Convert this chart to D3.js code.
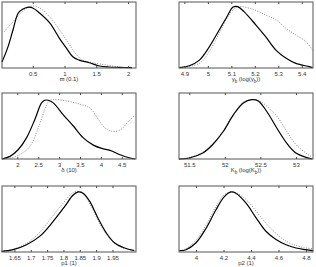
<!DOCTYPE html>
<html>
<head>
<meta charset="utf-8">
<script src="https://cdn.jsdelivr.net/npm/d3@7"></script>
<style>
  body { margin: 0; background: #fff; }
  svg { display: block; }
  .tick text { font-family: "Liberation Sans", Arial, sans-serif; font-size: 6px; fill: #333; }
  .lbl { font-family: "Liberation Sans", Arial, sans-serif; font-size: 6px; fill: #333; }
</style>
</head>
<body>
<svg id="chart" width="316" height="267"></svg>
<script>
// marginal posteriors, solid = posterior, dotted = comparison (relative density)
var omegaSolid = [[0.016,0.09],[0.11,0.32],[0.19,0.58],[0.27,0.83],[0.34,0.89],[0.42,0.92],[0.5,0.91],[0.61,0.83],[0.77,0.68],[0.92,0.45],[1.03,0.30],[1.13,0.17],[1.23,0.12],[1.39,0.08],[1.55,0.03],[1.70,0.015],[1.86,0.01],[2.06,0.005]];
var omegaDotted = [[0.047,0.545],[0.17,0.68],[0.25,0.77],[0.41,0.91],[0.5,0.94],[0.61,0.91],[0.77,0.77],[0.92,0.58],[1.08,0.35],[1.19,0.20],[1.28,0.12],[1.44,0.08],[1.66,0.045],[1.86,0.015],[2.06,0.005]];

var gammaSolid = [[4.879,0.005],[4.921,0.035],[4.964,0.12],[5.006,0.32],[5.049,0.58],[5.085,0.80],[5.106,0.92],[5.127,0.93],[5.155,0.85],[5.205,0.65],[5.247,0.47],[5.29,0.27],[5.332,0.15],[5.375,0.07],[5.432,0.02],[5.446,0.005]];
var gammaDotted = [[4.879,0.005],[4.964,0.07],[5.006,0.25],[5.049,0.53],[5.085,0.78],[5.113,0.90],[5.134,0.93],[5.191,0.89],[5.248,0.80],[5.29,0.73],[5.333,0.60],[5.375,0.50],[5.418,0.40],[5.446,0.27]];

var deltaSolid = [[1.63,0],[1.825,0.04],[2.02,0.14],[2.22,0.32],[2.42,0.60],[2.58,0.85],[2.66,0.89],[2.74,0.89],[2.86,0.85],[3.10,0.67],[3.34,0.50],[3.58,0.32],[3.82,0.21],[4.02,0.16],[4.22,0.13],[4.46,0.065],[4.70,0.015],[4.82,0]];
var deltaDotted = [[1.825,0.01],[2.06,0.065],[2.30,0.19],[2.50,0.47],[2.66,0.75],[2.76,0.88],[2.86,0.90],[3.18,0.88],[3.50,0.83],[3.74,0.77],[3.94,0.60],[4.10,0.47],[4.26,0.42],[4.46,0.44],[4.66,0.57],[4.82,0.67]];

var kSolid = [[51.355,0],[51.5,0.015],[51.69,0.09],[51.83,0.22],[51.98,0.42],[52.12,0.67],[52.26,0.85],[52.38,0.90],[52.47,0.88],[52.59,0.72],[52.73,0.47],[52.87,0.24],[53.0,0.09],[53.14,0.025],[53.23,0]];
var kDotted = [[51.355,0],[51.5,0.02],[51.69,0.10],[51.83,0.23],[51.98,0.43],[52.12,0.68],[52.26,0.86],[52.38,0.90],[52.47,0.89],[52.59,0.80],[52.73,0.65],[52.87,0.42],[53.0,0.22],[53.14,0.09],[53.23,0.025]];

var p1Solid = [[1.611,0.01],[1.646,0.035],[1.687,0.11],[1.728,0.24],[1.768,0.46],[1.804,0.69],[1.829,0.86],[1.845,0.91],[1.86,0.89],[1.88,0.77],[1.905,0.52],[1.931,0.29],[1.956,0.14],[1.987,0.06],[2.017,0.02]];
var p1Dotted = [[1.611,0.01],[1.646,0.04],[1.687,0.13],[1.728,0.30],[1.768,0.55],[1.799,0.74],[1.824,0.88],[1.84,0.92],[1.86,0.88],[1.885,0.69],[1.91,0.44],[1.936,0.24],[1.962,0.11],[1.99,0.05],[2.017,0.02]];

var p2Solid = [[3.879,0.02],[3.927,0.035],[4.0,0.14],[4.073,0.36],[4.145,0.64],[4.206,0.84],[4.255,0.91],[4.29,0.89],[4.364,0.74],[4.436,0.52],[4.51,0.31],[4.582,0.19],[4.655,0.11],[4.727,0.06],[4.8,0.035],[4.85,0.02]];
var p2Dotted = [[3.879,0.02],[3.927,0.05],[4.0,0.18],[4.073,0.41],[4.145,0.69],[4.206,0.87],[4.255,0.91],[4.3,0.89],[4.376,0.77],[4.448,0.59],[4.52,0.41],[4.594,0.26],[4.667,0.15],[4.74,0.09],[4.8,0.06],[4.85,0.05]];

var omegaTicks = [0.5, 1, 1.5, 2];
var gammaTicks = [4.9, 5, 5.1, 5.2, 5.3, 5.4];
var deltaTicks = [2, 2.5, 3, 3.5, 4, 4.5];
var kTicks = [51.5, 52, 52.5, 53];
var p1Ticks = [1.65, 1.7, 1.75, 1.8, 1.85, 1.9, 1.95];
var p2Ticks = [4, 4.2, 4.4, 4.6, 4.8];

var svg = d3.select("#chart");

var colX = [2, 179], rowY = [2, 93, 186];
var pw = 134, ph = 66;

var panels = [
  { solid: omegaSolid, dotted: omegaDotted, ticks: omegaTicks, dom: [0.016, 2.125], label: [["ϖ (0.1)"]] },
  { solid: gammaSolid, dotted: gammaDotted, ticks: gammaTicks, dom: [4.877, 5.448], label: [["γ"],["b","sub"],[" (log(γ"],["b","sub"],["))"]] },
  { solid: deltaSolid, dotted: deltaDotted, ticks: deltaTicks, dom: [1.634, 4.84], label: [["δ (10)"]] },
  { solid: kSolid, dotted: kDotted, ticks: kTicks, dom: [51.355, 53.24], label: [["K"],["b","sub"],[" (log(K"],["b","sub"],["))"]] },
  { solid: p1Solid, dotted: p1Dotted, ticks: p1Ticks, dom: [1.612, 2.022], label: [["p1 (1)"]] },
  { solid: p2Solid, dotted: p2Dotted, ticks: p2Ticks, dom: [3.876, 4.851], label: [["p2 (1)"]] }
];

panels.forEach(function(p, i) {
  var x0 = colX[i % 2], y0 = rowY[Math.floor(i / 2)];
  var g = svg.append("g").attr("transform", "translate(" + x0 + "," + y0 + ")");

  var x = d3.scaleLinear().domain(p.dom).range([0, pw]);
  var y = d3.scaleLinear().domain([0, 1]).range([ph, 0]);

  var line = d3.line()
      .x(function(d) { return x(d[0]); })
      .y(function(d) { return y(d[1]); })
      .curve(d3.curveCatmullRom);

  g.append("path").datum(p.dotted)
      .attr("d", line)
      .attr("fill", "none")
      .attr("stroke", "#888")
      .attr("stroke-width", 1)
      .attr("stroke-dasharray", "1,1.5");

  g.append("path").datum(p.solid)
      .attr("d", line)
      .attr("fill", "none")
      .attr("stroke", "#000")
      .attr("stroke-width", 1.2);

  // bottom axis with inward ticks
  var ax = g.append("g")
      .attr("transform", "translate(0," + ph + ")")
      .call(d3.axisBottom(x).tickValues(p.ticks).tickSizeInner(-2).tickSizeOuter(0)
        .tickFormat(d3.format("")));
  ax.select(".domain").remove();
  ax.selectAll(".tick line").attr("stroke", "#444");
  ax.selectAll(".tick text").attr("y", 4);

  // top ticks
  g.append("g")
      .call(d3.axisTop(x).tickValues(p.ticks).tickSizeInner(-2).tickSizeOuter(0).tickFormat(""))
      .call(function(s) { s.select(".domain").remove(); s.selectAll("line").attr("stroke", "#444"); });

  g.append("rect")
      .attr("x", 0).attr("y", 0)
      .attr("width", pw).attr("height", ph)
      .attr("fill", "none")
      .attr("stroke", "#555")
      .attr("stroke-width", 1);

  var t = g.append("text").attr("class", "lbl")
      .attr("x", pw / 2).attr("y", ph + 13)
      .attr("text-anchor", "middle");
  p.label.forEach(function(part) {
    var s = t.append("tspan").text(part[0]);
    if (part[1] === "sub") s.attr("font-size", "4.5px").attr("dy", 1.5);
    else if (part !== p.label[0]) s.attr("dy", -1.5);
  });
});
</script>
</body>
</html>
